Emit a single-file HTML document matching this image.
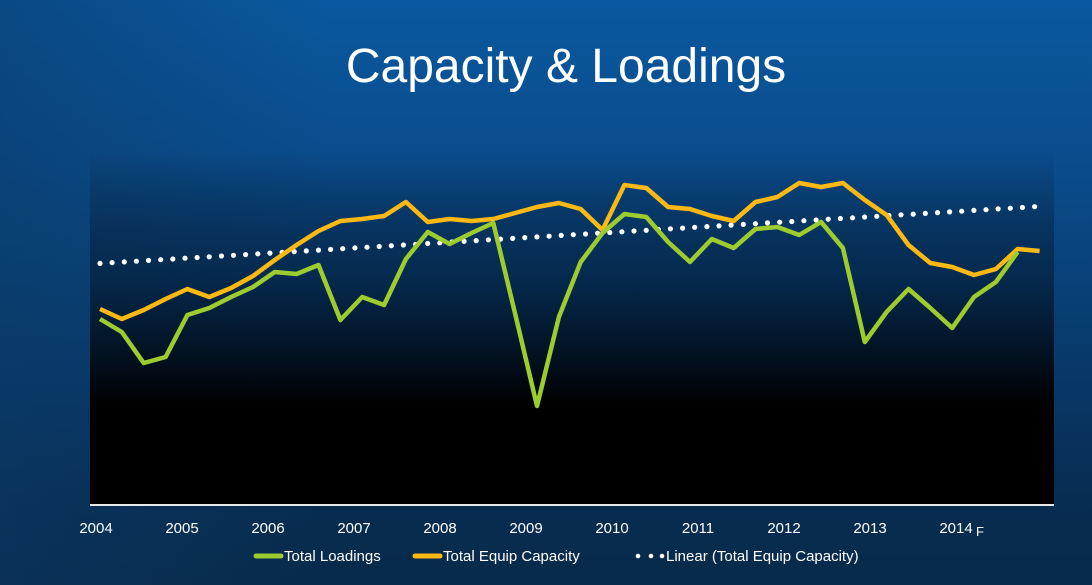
<!DOCTYPE html>
<html><head><meta charset="utf-8"><style>
html,body{margin:0;padding:0;width:1092px;height:585px;overflow:hidden;}
body{background:linear-gradient(180deg,#0a58a0 0%,#0a4b8a 30%,#083a6c 60%,#072d52 85%,#082a4b 100%);font-family:"Liberation Sans",sans-serif;}
svg{position:absolute;left:0;top:0;}
</style></head><body>
<svg width="1092" height="585">
<defs>
<linearGradient id="pg" x1="0" y1="0" x2="0" y2="1">
<stop offset="0" stop-color="#000" stop-opacity="0"/>
<stop offset="0.35" stop-color="#021428" stop-opacity="0.5"/>
<stop offset="0.72" stop-color="#000" stop-opacity="1"/>
<stop offset="1" stop-color="#000" stop-opacity="1"/>
</linearGradient>
<linearGradient id="lg" x1="0" y1="0" x2="1" y2="0">
<stop offset="0" stop-color="#0b3a66" stop-opacity="0.5"/>
<stop offset="0.3" stop-color="#0b3a66" stop-opacity="0"/>
</linearGradient>
</defs>
<rect x="0" y="0" width="1092" height="585" fill="url(#lg)"/>
<rect x="90" y="150" width="964" height="355" fill="url(#pg)"/>
<line x1="90" y1="505" x2="1054" y2="505" stroke="#e8e8e8" stroke-width="2"/>
<text x="566" y="82" fill="#fff" font-size="48" text-anchor="middle">Capacity &amp; Loadings</text>
<g id="marks"></g>
<g id="xlabels"></g>
<g>
<line x1="256" y1="556" x2="281" y2="556" stroke="#9dcc2f" stroke-width="5" stroke-linecap="round"/>
<text x="284" y="561" fill="#fff" font-size="15">Total Loadings</text>
<line x1="415" y1="556" x2="440" y2="556" stroke="#fdb913" stroke-width="5" stroke-linecap="round"/>
<text x="443" y="561" fill="#fff" font-size="15">Total Equip Capacity</text>
<circle cx="638" cy="556" r="2.3" fill="#fff"/>
<circle cx="651" cy="556" r="2.3" fill="#fff"/>
<circle cx="662" cy="556" r="2.3" fill="#fff"/>
<text x="666" y="561" fill="#fff" font-size="15">Linear (Total Equip Capacity)</text>
</g>
</svg>
<script>
const years = ["2004","2005","2006","2007","2008","2009","2010","2011","2012","2013","2014"];
const loadings = [186,173,142,148,190,197,208,218,233,231,240,185,208,200,246,273,261,272,282,191,99,188,243,272,291,288,263,243,266,257,276,278,270,283,257,163,193,216,197,177,208,223,253,null];
const capacity = [196,186,195,206,216,208,217,229,245,260,274,284,286,289,303,283,286,284,286,292,298,302,296,275,320,317,298,296,289,284,303,308,322,318,322,305,290,260,242,238,230,236,256,254];
const NS = "http://www.w3.org/2000/svg";
const x0 = 100, dx = 21.85;
function xq(i){ return x0 + i*dx; }
function yv(v){ return 505 - v; }
const g = document.getElementById('marks');
function poly(arr, color, name){
  const pts = [];
  arr.forEach((v,i)=>{ if(v!==null) pts.push(xq(i).toFixed(1)+","+yv(v).toFixed(1)); });
  const p = document.createElementNS(NS,'polyline');
  p.setAttribute('points', pts.join(' '));
  p.setAttribute('fill','none');
  p.setAttribute('stroke',color);
  p.setAttribute('stroke-width','4.5');
  p.setAttribute('stroke-linejoin','round');
  
  
  g.appendChild(p);
}
const n = capacity.length;
let sx=0, sy=0, sxx=0, sxy=0;
capacity.forEach((v,i)=>{ sx+=i; sy+=v; sxx+=i*i; sxy+=i*v; });
const slope = (n*sxy - sx*sy)/(n*sxx - sx*sx);
const icpt = (sy - slope*sx)/n;
const tx0 = xq(0), tx1 = xq(n-1)-5;
const steps = Math.round((tx1-tx0)/12.1);
for(let k=0;k<=steps;k++){
  const xx = tx0 + (tx1-tx0)*k/steps;
  const idx = (xx - x0)/dx;
  const c = document.createElementNS(NS,'circle');
  c.setAttribute('cx', xx.toFixed(1));
  c.setAttribute('cy', yv(icpt + slope*idx).toFixed(1));
  c.setAttribute('r','2.6');
  c.setAttribute('fill','#fff');
  
  
  g.appendChild(c);
}
poly(capacity,'#fdb913','capacity-line');
poly(loadings,'#9dcc2f','loadings-line');
const xl = document.getElementById('xlabels');
years.forEach((y,k)=>{
  const t = document.createElementNS(NS,'text');
  t.setAttribute('x', (96 + (xq(4*k)-100)*0.984).toFixed(1));
  t.setAttribute('y', '533');
  t.setAttribute('fill','#fff');
  t.setAttribute('font-size','15');
  t.setAttribute('text-anchor','middle');
  t.textContent = y;
  
  
  xl.appendChild(t);
});
const f = document.createElementNS(NS,'text');
f.setAttribute('x','976'); f.setAttribute('y','536');
f.setAttribute('fill','#fff'); f.setAttribute('font-size','13');
f.textContent = 'F';


xl.appendChild(f);
</script>
</body></html>
